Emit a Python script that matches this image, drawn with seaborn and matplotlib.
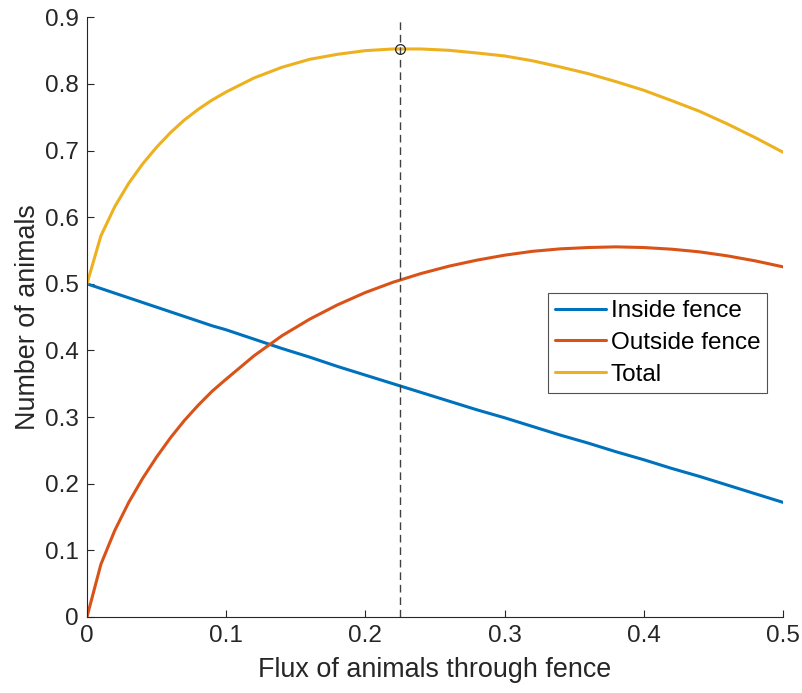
import pandas as pd
import seaborn as sns
import matplotlib.pyplot as plt

# Values
flux = [0.00, 0.01, 0.02, 0.03, 0.04, 0.05, 0.06, 0.07, 0.08, 0.09, 0.10,
        0.12, 0.14, 0.16, 0.18, 0.20, 0.22, 0.24, 0.26, 0.28, 0.30,
        0.32, 0.34, 0.36, 0.38, 0.40, 0.42, 0.44, 0.46, 0.48, 0.50]
inside = [0.500, 0.493, 0.486, 0.479, 0.472, 0.465, 0.458, 0.451, 0.444, 0.437, 0.431,
          0.417, 0.403, 0.390, 0.376, 0.363, 0.350, 0.337, 0.324, 0.311, 0.299,
          0.286, 0.273, 0.261, 0.248, 0.236, 0.223, 0.211, 0.198, 0.185, 0.172]
outside = [0.000, 0.079, 0.130, 0.172, 0.208, 0.240, 0.269, 0.295, 0.318, 0.339, 0.357,
           0.392, 0.422, 0.447, 0.4685, 0.487, 0.5025, 0.5155, 0.5265, 0.5355, 0.543,
           0.5488, 0.5525, 0.5545, 0.5555, 0.5545, 0.552, 0.548, 0.542, 0.5345, 0.5255]
total = [0.500, 0.572, 0.616, 0.651, 0.680, 0.705, 0.727, 0.746, 0.762, 0.776, 0.788,
         0.809, 0.825, 0.837, 0.8445, 0.850, 0.8525, 0.8525, 0.8505, 0.8465, 0.842,
         0.8348, 0.8255, 0.8155, 0.8035, 0.7905, 0.775, 0.759, 0.740, 0.7195, 0.6975]
peak_flux = 0.225
peak_total = 0.853

df = pd.DataFrame({"flux": flux, "inside": inside, "outside": outside, "total": total})

sns.set_style("ticks", {"xtick.direction": "in", "ytick.direction": "in"})
plt.rcParams['font.family'] = ['Liberation Sans', 'DejaVu Sans']

fig = plt.figure(figsize=(8.03, 6.93), dpi=100)
ax = fig.add_axes([0.1083, 0.1097, 0.8668, 0.8653])

sns.lineplot(data=df, x="flux", y="inside", ax=ax, color="#0072BD", lw=2.2, label="Inside fence")
sns.lineplot(data=df, x="flux", y="outside", ax=ax, color="#D95319", lw=2.2, label="Outside fence")
sns.lineplot(data=df, x="flux", y="total", ax=ax, color="#EDB120", lw=2.2, label="Total")

# optimum marker and dashed guide
ax.axvline(peak_flux, color="#404040", lw=1.0, ls=(0, (5.5, 3.5)))
ax.plot([peak_flux], [peak_total], marker="o", ms=7, mfc="none", mec="#262626", mew=0.9)

ax.set_xlim(0, 0.5)
ax.set_ylim(0, 0.9)
ax.set_xticks([0, 0.1, 0.2, 0.3, 0.4, 0.5])
ax.set_xticklabels(["0", "0.1", "0.2", "0.3", "0.4", "0.5"])
ax.set_yticks([0, 0.1, 0.2, 0.3, 0.4, 0.5, 0.6, 0.7, 0.8, 0.9])
ax.set_yticklabels(["0", "0.1", "0.2", "0.3", "0.4", "0.5", "0.6", "0.7", "0.8", "0.9"])
ax.tick_params(labelsize=17.5, colors="#262626", length=5, width=0.8, pad=6)
ax.set_xlabel("Flux of animals through fence", fontsize=19.4, color="#262626", labelpad=7)
ax.set_ylabel("Number of animals", fontsize=19.4, color="#262626", labelpad=3)
sns.despine(ax=ax)
for s in ["left", "bottom"]:
    ax.spines[s].set_color("#262626")
    ax.spines[s].set_linewidth(0.8)

leg = ax.legend(loc="lower left", bbox_to_anchor=(0.662, 0.3735, 0.315, 0.165), mode="expand",
                fontsize=17.5, frameon=True, fancybox=False, edgecolor="#262626",
                handlelength=2.1, handletextpad=0.2, labelspacing=0.4, borderpad=0.3,
                borderaxespad=0)
leg.get_frame().set_linewidth(0.8)
for t in leg.get_texts():
    t.set_color("black")

plt.savefig("out.png", dpi=100)
